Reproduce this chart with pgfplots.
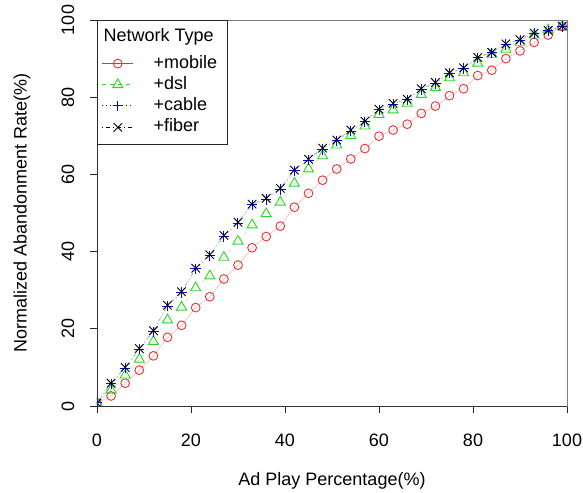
\documentclass[border=0pt]{standalone}
\usepackage{fontspec}
\setmainfont{Liberation Sans}
\usepackage{pgfplots}
\pgfplotsset{compat=1.18}
\usepackage{pgfplotstable}

\definecolor{rred}{RGB}{232,50,50}
\definecolor{rgreen}{RGB}{40,215,40}
\definecolor{rblue}{RGB}{0,0,255}
\definecolor{boxgray}{RGB}{125,125,125}

\pgfplotstableread{
x mobile dsl cable fiber
0 0.8 0.8 0.8 0.8
3 2.6 4.1 5.7 5.9
6 5.9 8.0 9.8 10.0
9 9.3 12.1 14.7 14.9
12 13.0 16.7 19.2 19.5
15 17.8 22.3 25.9 26.1
18 20.9 25.6 29.4 29.6
21 25.5 30.6 35.5 35.7
24 28.3 33.7 38.9 39.2
27 32.9 38.5 43.9 44.2
30 36.5 42.7 47.3 47.6
33 41.0 46.9 52.1 52.3
36 43.9 49.8 53.5 53.8
39 46.6 52.8 56.1 56.4
42 51.5 57.7 60.9 61.1
45 55.1 61.4 63.7 63.9
48 58.5 64.8 66.5 66.8
51 61.4 67.6 68.7 68.9
54 64.0 70.0 71.2 71.5
57 66.7 72.5 73.6 73.8
60 69.9 75.5 76.7 76.9
63 71.5 76.7 78.2 78.4
66 73.0 78.4 79.3 79.5
69 75.8 80.7 82.0 82.2
72 77.7 82.5 83.6 83.8
75 80.4 85.0 86.2 86.3
78 82.2 86.3 87.4 87.6
81 85.6 88.8 90.2 90.3
84 87.0 91.1 91.5 91.6
87 90.0 92.4 93.7 93.8
90 92.0 94.2 94.8 94.9
93 94.2 96.1 96.5 96.6
96 96.1 97.4 97.2 97.3
99 98.3 98.3 98.3 98.4
}\data

\begin{document}
\begin{tikzpicture}[font=\fontsize{18bp}{21bp}\selectfont]
\begin{axis}[
  scale only axis, width=470bp, height=386bp,
  xmin=0, xmax=100, ymin=0, ymax=100,
  xtick={0,20,...,100}, ytick={0,20,...,100},
  tick align=outside, xtick pos=bottom, ytick pos=left,
  major tick length=7bp,
  tick style={black!85, line width=0.8bp},
  axis line style={boxgray, line width=0.8bp},
  /pgf/number format/assume math mode=true,
  xticklabel style={anchor=center, inner sep=0pt},
  yticklabel style={rotate=90, anchor=center, inner sep=0pt},
  xticklabel shift=27bp,
  yticklabel shift=22bp,
  xlabel={Ad Play Percentage(\%)},
  ylabel={Normalized Abandonment Rate(\%)},
  xlabel style={at={(axis description cs:0.5,-0.1943)}, anchor=center},
  ylabel style={at={(axis description cs:-0.1596,0.5)}, anchor=center},
  clip marker paths=true,
  legend cell align=left,
  legend style={at={(axis description cs:0,1)}, anchor=north west,
    draw=black!85, line width=0.8bp, fill=white,
    font=\fontsize{18bp}{21bp}\selectfont,
    inner xsep=4.5bp, inner ysep=7bp, row sep=2.1bp, column sep=19bp,
    nodes={inner sep=1bp, text height=13bp, text depth=4bp}},
  legend image code/.code={%
    \draw[mark repeat=2,mark phase=2,#1,draw opacity=1]
      plot coordinates {(0bp,0bp)(15.5bp,0bp)(31bp,0bp)};},
]
\addlegendimage{empty legend}
\addlegendentry[text depth=9.6bp]{\hspace*{-50bp}Network Type}

\addplot[rred, line width=0.8bp, draw opacity=0.28, mark=o, mark size=4.4bp,
  mark options={solid, draw opacity=1, line width=0.9bp}]
  table[x=x, y=mobile] {\data};
\addlegendentry{+mobile\hspace*{5bp}}

\addplot[rgreen, line width=0.8bp, draw opacity=0.28, dash pattern=on 4bp off 4bp,
  mark=triangle, mark size=5.8bp,
  mark options={solid, draw opacity=1, line width=0.9bp}]
  table[x=x, y=dsl] {\data};
\addlegendentry{+dsl}

\addplot[rblue, line width=0.8bp, draw opacity=0.28, dash pattern=on 1bp off 3bp,
  mark=+, mark size=5.2bp,
  mark options={solid, draw opacity=1, line width=1bp}]
  table[x=x, y=cable] {\data};
\addlegendentry{+cable}

\addplot[black, line width=0.8bp, draw opacity=0.28, dash pattern=on 1bp off 3bp on 4bp off 3bp,
  mark=x, mark size=6bp,
  mark options={solid, draw opacity=1, line width=0.9bp}]
  table[x=x, y=fiber] {\data};
\addlegendentry[text depth=5bp]{+fiber}

\draw[black!80, line width=0.8bp] (rel axis cs:0,0) -- (rel axis cs:0,1);
\draw[black!80, line width=0.8bp] (rel axis cs:0,0) -- (rel axis cs:1,0);
\end{axis}
\path (-97bp,-86bp) rectangle (486bp,406bp);
\end{tikzpicture}
\end{document}
